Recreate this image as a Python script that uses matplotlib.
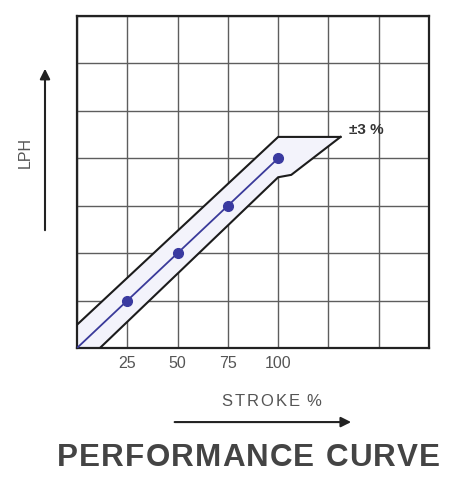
import matplotlib
matplotlib.use("Agg")
import matplotlib.pyplot as plt
from matplotlib.patches import FancyArrowPatch

# Data
stroke = [25, 50, 75, 100]
lph = [1, 2, 3, 4]
center_x = [0, 25, 50, 75, 100]
center_y = [0, 1, 2, 3, 4]
upper_x = [0, 100, 131]
upper_y = [0.49, 4.45, 4.45]
lower_x = [11.4, 100, 106.5, 131]
lower_y = [0.0, 3.6, 3.65, 4.45]
xtick_labels = ["", "25", "50", "75", "100", "", "", ""]
tol_label = "±3 %"

plt.rcParams['font.family'] = ['Liberation Sans', 'DejaVu Sans']

fig = plt.figure(figsize=(4.62, 4.78), dpi=100)
fig.patch.set_facecolor('white')
ax = fig.add_axes([0.1667, 0.272, 0.762, 0.6946])

ax.set_xlim(0, 175)
ax.set_ylim(0, 7)
ax.set_xticks(range(0, 176, 25))
ax.set_yticks(range(0, 8))
ax.grid(True, color='#5e5e5e', linewidth=1.0)
ax.set_axisbelow(True)
for s in ax.spines.values():
    s.set_linewidth(1.6)
    s.set_color('#222222')
ax.tick_params(length=0, labelleft=False, pad=6, labelsize=11.5, labelcolor='#555555')
ax.set_xticklabels(xtick_labels)

# light tint inside tolerance band
poly_x = upper_x + lower_x[::-1] + [0]
poly_y = upper_y + lower_y[::-1] + [0]
ax.fill(poly_x, poly_y, color='#f3f3fb', zorder=1.5, linewidth=0)

ax.plot(upper_x, upper_y, color='#1c1c1c', linewidth=1.5, solid_joinstyle='miter', zorder=3)
ax.plot(lower_x, lower_y, color='#1c1c1c', linewidth=1.5, solid_joinstyle='miter', zorder=3)
ax.plot([upper_x[-1], lower_x[-1]], [upper_y[-1], lower_y[-1]], color='#1c1c1c',
        linewidth=1.5, zorder=3)
ax.plot(center_x, center_y, color='#3a3a9a', linewidth=1.3, zorder=3)
ax.plot(stroke, lph, 'o', color='#3a3aa0', markersize=7, zorder=4)

ax.text(135.4, 4.6, tol_label, fontsize=11, fontweight='bold', color='#333333',
        ha='left', va='center')

renderer = fig.canvas.get_renderer()


def tracked_text(s, cx, cy, width_px, space=0.25, **kw):
    """Draw string centred at (cx, cy) figure fraction, spread to width_px."""
    W = fig.bbox.width
    widths = []
    for ch in s:
        t = fig.text(0, 0, ch if ch != ' ' else 'n', **kw)
        bb = t.get_window_extent(renderer)
        w = bb.width if ch != ' ' else bb.width * space
        widths.append(w)
        t.remove()
    natural = sum(widths)
    extra = (width_px - natural) / max(len(s) - 1, 1)
    x = cx * W - width_px / 2
    for ch, w in zip(s, widths):
        if ch != ' ':
            fig.text(x / W, cy, ch, ha='left', va='center', **kw)
        x += w + extra


# Axis labels and arrows
fig.text(0.054, 0.682, "LPH", rotation=90, fontsize=11.5, color='#555555',
         ha='center', va='center')
fig.patches.append(FancyArrowPatch(
    (0.0974, 0.5126), (0.0974, 0.862), transform=fig.transFigure,
    arrowstyle='-|>,head_length=6,head_width=3', mutation_scale=1,
    color='#222222', linewidth=1.5))

tracked_text("STROKE %", 0.587, 0.159, 100, space=0.25, fontsize=12, color='#555555')
fig.patches.append(FancyArrowPatch(
    (0.372, 0.117), (0.766, 0.117), transform=fig.transFigure,
    arrowstyle='-|>,head_length=6,head_width=3', mutation_scale=1,
    color='#222222', linewidth=1.5))

tracked_text("PERFORMANCE CURVE", 0.538, 0.0418, 383, space=0.5, fontsize=22.6,
             fontweight='bold', color='#444444')

fig.savefig("out.png", dpi=100, facecolor='white')
